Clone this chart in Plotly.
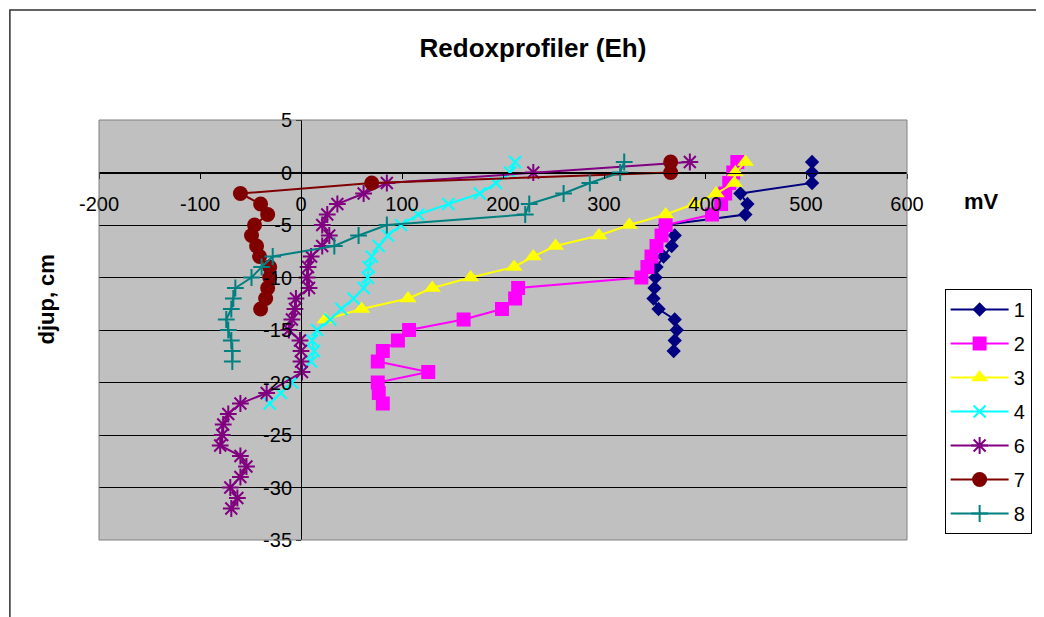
import plotly.graph_objects as go

# ---- data: depth (cm) and Eh (mV) per profile ----
names = ["1", "2", "3", "4", "6", "7", "8"]

depth_1 = [1, 0, -1, -2, -3, -4, -5, -6, -7, -8, -9, -10, -11, -12, -13, -14, -15, -16, -17]
mv_1 = [506, 506, 506, 435, 442, 440, 360, 370, 367, 359, 352, 351, 350, 349, 354, 370, 372, 370, 369]

depth_2 = [1, 0, -1, -2, -3, -4, -5, -6, -7, -8, -9, -10, -11, -12, -13, -14, -15, -16, -17, -18, -19, -20, -21, -22]
mv_2 = [432, 428, 424, 420, 416, 407, 361, 357, 352, 347, 343, 337, 215, 212, 199, 161, 107, 96, 81, 76, 126, 76, 77, 81]

depth_3 = [1, 0, -1, -2, -3, -4, -5, -6, -7, -8, -9, -10, -11, -12, -13, -14]
mv_3 = [440, 430, 429, 411, 389, 361, 325, 295, 252, 230, 211, 168, 130, 106, 60, 24]

depth_4 = [1, 0, -1, -2, -3, -4, -5, -6, -7, -8, -9, -10, -11, -12, -13, -14, -15, -16, -17, -18, -20, -21, -22]
mv_4 = [212, 207, 193, 177, 146, 116, 99, 86, 77, 70, 67, 66, 62, 52, 40, 29, 16, 11, 13, 10, -9, -20, -31]

depth_6 = [1, 0, -1, -2, -3, -4, -5, -6, -7, -8, -9, -10, -11, -12, -13, -14, -15, -16, -17, -18, -19,
           -21, -22, -23, -24, -25, -26, -27, -28, -29, -30, -31, -32]
mv_6 = [385, 230, 85, 62, 36, 26, 21, 28, 21, 10, 7, 6, 8, -5, -6, -9, -12, -1, 0, 0, 1,
        -34, -60, -72, -77, -78, -80, -60, -54, -60, -70, -63, -69]

depth_7 = [1, 0, -1, -2, -3, -4, -5, -6, -7, -8, -9, -10, -11, -12, -13]
mv_7 = [366, 366, 70, -60, -40, -33, -46, -49, -44, -41, -31, -31, -33, -35, -40]

depth_8 = [1, 0, -1, -2, -3, -4, -5, -6, -7, -8, -9, -10, -11, -12, -13, -14, -15, -16, -17, -18]
mv_8 = [320, 316, 286, 260, 226, 222, 85, 57, 33, -28, -39, -49, -65, -67, -69, -74, -72, -69, -68, -68]

x_ticks = [-200, -100, 0, 100, 200, 300, 400, 500, 600]
y_ticks = [5, 0, -5, -10, -15, -20, -25, -30, -35]

series = [
    (mv_1, depth_1, "#000080", "diamond", 11, False),
    (mv_2, depth_2, "#FF00FF", "square", 14, False),
    (mv_3, depth_3, "#FFFF00", "triangle-up", 15, False),
    (mv_4, depth_4, "#00FFFF", "x-thin-open", 12, True),
    (mv_6, depth_6, "#800080", "asterisk-open", 14, True),
    (mv_7, depth_7, "#800000", "circle", 15, False),
    (mv_8, depth_8, "#008080", "cross-thin-open", 12, True),
]

FONT = "Liberation Sans, Arial, sans-serif"

fig = go.Figure()
for name, (xs, ys, col, sym, size, thin) in zip(names, series):
    marker = dict(symbol=sym, size=size, color=col)
    if thin:
        marker["line"] = dict(color=col, width=2)
    else:
        marker["line"] = dict(width=0)
    fig.add_trace(go.Scatter(
        x=xs, y=ys, name=name, mode="lines+markers", legendgroup=name,
        line=dict(color=col, width=2), marker=marker, cliponaxis=False,
    ))

# page body has an 8px margin: the figure starts at page (8, 8)
OFF = 8
W, H = 1036, 609
PL, PR, PT, PB = 99, 915, 120, 540  # plot area in page pixels
L, R, T, B = PL - OFF, (OFF + W) - PR, PT - OFF, (OFF + H) - PB
pw, ph = PR - PL, PB - PT
X0 = PL + 200 * pw / 800  # page x of the value 0


def px(xp):
    return (xp - PL) / pw


def py(yp):
    return (PB - yp) / ph


fig.update_layout(
    width=W, height=H, autosize=False,
    margin=dict(l=L, r=R, t=T, b=B, pad=0),
    paper_bgcolor="white", plot_bgcolor="#C0C0C0",
    font=dict(family=FONT, size=20, color="black"),
    title=dict(text="<b>Redoxprofiler (Eh)</b>", x=(533 - OFF) / W, xanchor="center",
               y=1 - (48 - OFF) / H, yanchor="middle", font=dict(size=26, family=FONT)),
    xaxis=dict(range=[-200, 600], tickvals=x_ticks, ticktext=[str(v) for v in x_ticks],
               anchor="free", position=(PB - 172.5) / ph,
               showline=True, linecolor="black", linewidth=1,
               ticks="outside", ticklen=5, tickcolor="black",
               showgrid=False, zeroline=False, tickfont=dict(size=20),
               ticklabelstandoff=8),
    yaxis=dict(range=[-35, 5], tickvals=y_ticks, ticktext=[str(v) for v in y_ticks],
               anchor="free", position=(X0 - PL) / pw,
               showline=True, linecolor="black", linewidth=1,
               ticks="outside", ticklen=5, tickcolor="black",
               showgrid=True, gridcolor="black", gridwidth=1,
               zeroline=False, tickfont=dict(size=20)),
    legend=dict(x=px(953), y=py(289), xanchor="left", yanchor="top",
                bgcolor="white", bordercolor="black", borderwidth=1,
                font=dict(size=20, family=FONT), itemwidth=58,
                traceorder="grouped", tracegroupgap=5, itemsizing="trace"),
    showlegend=True,
    shapes=[
        dict(type="rect", xref="paper", yref="paper", x0=0, x1=1, y0=0, y1=1,
             line=dict(color="#808080", width=1), layer="above"),
        dict(type="path", xref="paper", yref="paper",
             path=f"M {px(1060)} {py(10)} L {px(9)} {py(10)} L {px(9)} {py(640)}",
             line=dict(color="#303030", width=1.5)),
    ],
    annotations=[
        dict(text="<b>mV</b>", xref="paper", yref="paper", x=px(990), y=py(201),
             showarrow=False, xanchor="center", yanchor="middle", font=dict(size=22)),
        dict(text="<b>djup, cm</b>", xref="paper", yref="paper", x=px(45), y=py(300),
             showarrow=False, textangle=-90, xanchor="center", yanchor="middle",
             font=dict(size=22)),
    ],
)

fig.write_html("out.html")
